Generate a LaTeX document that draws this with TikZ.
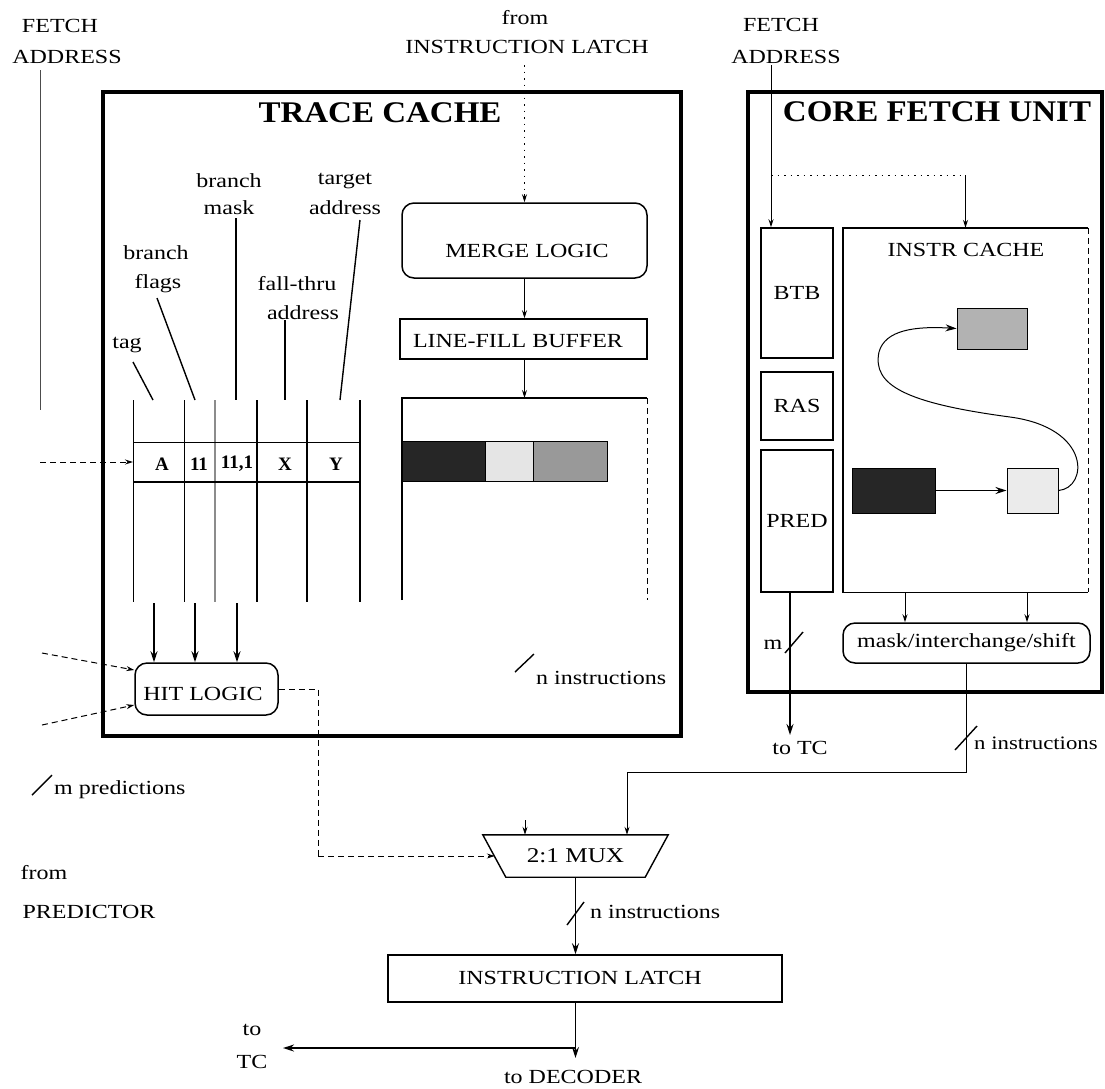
\documentclass[tikz,border=0pt]{standalone}
\usepackage{fontspec}
\setmainfont{Liberation Serif}
\usepackage{graphicx}
\usetikzlibrary{arrows.meta}
\newcommand{\ws}[2][1.2]{\scalebox{#1}[1]{#2}}
\begin{document}
\begin{tikzpicture}[x=1pt,y=-1pt,
  lbl/.style={inner sep=0pt, font=\fontsize{20}{22}\selectfont},
  big/.style={inner sep=0pt, font=\bfseries\fontsize{30}{32}\selectfont},
  cell/.style={inner sep=0pt, font=\bfseries\fontsize{19}{21}\selectfont},
  frame/.style={draw, line width=3.8pt, inner sep=0pt},
  boxx/.style={draw, line width=1.5pt, inner sep=0pt, font=\fontsize{20}{22}\selectfont},
  rbox/.style={boxx, rounded corners=12pt},
  blk/.style={draw, line width=1pt, inner sep=0pt},
  ln/.style={line width=1.4pt},
  thinln/.style={line width=1pt},
  arr/.style={ln, -{Stealth[length=11pt,width=7pt]}},
  sarr/.style={thinln, -{Stealth[length=8pt,width=5pt]}},
  dotl/.style={line width=1pt, dash pattern=on 1.5pt off 5pt},
  dsh/.style={line width=1pt, dash pattern=on 6pt off 4pt}
]
\useasboundingbox (0,0) rectangle (1105,1088);

% ---------- outer frames ----------
\node[frame, minimum width=578pt, minimum height=644pt] (tc) at (392,414) {};
\node[frame, minimum width=354pt, minimum height=600pt] (cfu) at (925,392) {};

% ---------- top labels ----------
\node[lbl] (fa1a) at (60,26) {\ws{FETCH}};
\node[lbl] (fa1b) at (67,57) {\ws{ADDRESS}};
\node[lbl] (fil1) at (525,18) {\ws{from}};
\node[lbl] (fil2) at (527,47) {\ws{INSTRUCTION LATCH}};
\node[lbl] (fa2a) at (781,25) {\ws{FETCH}};
\node[lbl] (fa2b) at (786,57) {\ws{ADDRESS}};
\node[big] (tct) at (380,113) {\ws[1.1]{TRACE CACHE}};
\node[big] (cft) at (937,112) {\ws[1.1]{CORE FETCH UNIT}};

% ---------- trace cache contents ----------
\node[rbox, minimum width=245pt, minimum height=75pt] (merge) at (524.5,240.5) {};
\node[lbl] (mergetxt) at (527,251) {\ws{MERGE LOGIC}};
\node[boxx, minimum width=247pt, minimum height=40pt] (lfb) at (523.5,339) {};
\node[lbl] (lfbtxt) at (518,341) {\ws{LINE-FILL BUFFER}};

\coordinate (fatl) at (402,398);
\coordinate (fatr) at (647,398);
\coordinate (fabl) at (402,600);
\coordinate (fabr) at (647,600);
\draw[ln] (fabl) -- (fatl) -- (fatr);
\draw[dsh] (fatr) -- (fabr);

\node[blk, fill=black!85, minimum width=83pt, minimum height=40pt] (b1) at (443.5,461) {};
\node[blk, fill=black!10, minimum width=48pt, minimum height=40pt] (b2) at (509,461) {};
\node[blk, fill=black!40, minimum width=74pt, minimum height=40pt] (b3) at (570,461) {};

% field labels
\node[lbl] (lbm1) at (229,181) {\ws{branch}};
\node[lbl] (lbm2) at (229,208) {\ws{mask}};
\node[lbl] (lta1) at (345,181) {\ws{target}};
\node[lbl] (lta2) at (345,208) {\ws{address}};
\node[lbl] (lbf1) at (156,253) {\ws{branch}};
\node[lbl] (lbf2) at (158,284) {\ws{flags}};
\node[lbl] (lft1) at (297,284) {\ws{fall-thru}};
\node[lbl] (lft2) at (303,313) {\ws{address}};
\node[lbl] (ltag) at (127,345) {\ws{tag}};

% table grid
\coordinate (g0) at (133,400); \coordinate (g0b) at (133,602);
\coordinate (g1) at (184,400); \coordinate (g1b) at (184,602);
\coordinate (g2) at (215,400); \coordinate (g2b) at (215,602);
\coordinate (g3) at (257,400); \coordinate (g3b) at (257,602);
\coordinate (g4) at (307,400); \coordinate (g4b) at (307,602);
\coordinate (g5) at (360,400); \coordinate (g5b) at (360,602);
\draw[thinln] (g0) -- (g0b);
\draw[thinln] (g1) -- (g1b);
\draw[line width=2.6pt, black!45] (g2) -- (g2b);
\draw[ln] (g3) -- (g3b);
\draw[ln] (g4) -- (g4b);
\draw[ln] (g5) -- (g5b);
\coordinate (h1l) at (133,442); \coordinate (h1r) at (360,442);
\coordinate (h2l) at (133,482); \coordinate (h2r) at (360,482);
\draw[thinln] (h1l) -- (h1r);
\draw[ln] (h2l) -- (h2r);
\node[cell] (cA) at (162,464) {A};
\node[cell] (cF) at (199,464) {11};
\node[cell] (cM) at (237,464) {11,1};
\node[cell] (cX) at (285,464) {X};
\node[cell] (cY) at (336,464) {Y};

% label leader lines
\coordinate (tagt) at (133,362); \coordinate (tagb) at (153,400);
\coordinate (flt) at (157,298); \coordinate (flb) at (195,400);
\coordinate (mkt) at (236,218); \coordinate (mkb) at (236,400);
\coordinate (ftt) at (285,320); \coordinate (ftb) at (285,400);
\coordinate (tat) at (360,220); \coordinate (tab) at (340,400);
\draw[ln] (tagt) -- (tagb);
\draw[ln] (flt) -- (flb);
\draw[ln] (mkt) -- (mkb);
\draw[ln] (ftt) -- (ftb);
\draw[ln] (tat) -- (tab);

% hit logic
\node[rbox, minimum width=143pt, minimum height=52pt] (hit) at (206.5,689) {};
\node[lbl] (hittxt) at (203,694) {\ws{HIT LOGIC}};
\coordinate (ha1) at (154,603);
\coordinate (ha2) at (195,603);
\coordinate (ha3) at (237,603);
\draw[arr] (ha1) -- (ha1 |- hit.north);
\draw[arr] (ha2) -- (ha2 |- hit.north);
\draw[arr] (ha3) -- (ha3 |- hit.north);

% n instructions inside TC
\coordinate (ns1a) at (515,672); \coordinate (ns1b) at (534,654);
\draw[ln] (ns1a) -- (ns1b);
\node[lbl, anchor=west] (ni1) at (536,678) {\ws{n instructions}};

% fetch address (left) and predictor inputs
\coordinate (fl1) at (40,70); \coordinate (fl2) at (40,410);
\draw[line width=0.8pt, black!70] (fl1) -- (fl2);
\coordinate (fl3) at (40,462);
\draw[dsh, -{Stealth[length=8pt,width=5pt]}] (fl3) -- (fl3 -| g0);
\coordinate (pr1) at (42,653); \coordinate (pr2) at (42,725);
\draw[dsh, -{Stealth[length=8pt,width=5pt]}] (pr1) -- ([yshift=19pt]hit.west);
\draw[dsh, -{Stealth[length=8pt,width=5pt]}] (pr2) -- ([yshift=-16pt]hit.west);

% from instruction latch
\coordinate (il) at (524.5,65);
\draw[dotl] (il) -- ([yshift=8pt]merge.north);
\draw[sarr] ([yshift=8pt]merge.north) -- (merge.north);
\draw[sarr] (merge.south) -- (merge.south |- lfb.north);
\draw[sarr] (merge.south |- lfb.south) -- (merge.south |- fatl);

% ---------- core fetch unit ----------
\node[boxx, minimum width=72pt, minimum height=130pt] (btb) at (797,293) {\ws{BTB}};
\node[boxx, minimum width=72pt, minimum height=68pt] (ras) at (797,406) {\ws{RAS}};
\node[boxx, minimum width=72pt, minimum height=142pt] (pred) at (797,521) {\ws{PRED}};
\node[minimum width=245pt, minimum height=364pt, inner sep=0pt] (icache) at (965.5,410) {};
\draw[ln] (icache.north east) -- (icache.north west) -- (icache.south west) -- (icache.south east);
\draw[dsh] (icache.north east) -- (icache.south east);
\node[lbl] (ictxt) at (966,250) {\ws{INSTR CACHE}};

\node[blk, fill=black!30, minimum width=70pt, minimum height=41pt] (gblk) at (992,328.5) {};
\node[blk, fill=black!85, minimum width=83pt, minimum height=45pt] (dblk) at (893.5,490.5) {};
\node[blk, fill=black!8, minimum width=51pt, minimum height=45pt] (lblk) at (1032.5,490.5) {};
\draw[arr] (dblk.east) -- (lblk.west);
\draw[thinln, -{Stealth[length=11pt,width=7pt]}] (lblk.east) .. controls (1088,488) and (1092,428) .. (1010,417)
   .. controls (905,403) and (872,385) .. (879,352) .. controls (885,330) and (915,326) .. (gblk.west);

\coordinate (fa2) at (771,65);
\draw[thinln, -{Stealth[length=8pt,width=5pt]}] (fa2) -- (fa2 |- btb.north);
\coordinate (icd) at (771,175);
\coordinate (icx) at (965.5,175);
\draw[dotl] (icd) -- (icx);
\draw[sarr] (icx) -- (icache.north);

\node[rbox, minimum width=247pt, minimum height=40pt] (mask) at (966.5,643) {\ws{mask/interchange/shift}};
\coordinate (m1) at (905,0);
\coordinate (m2) at (1027,0);
\draw[sarr] (icache.south -| m1) -- (mask.north -| m1);
\draw[sarr] (icache.south -| m2) -- (mask.north -| m2);

\coordinate (p1) at (790,0);
\coordinate (totc) at (790,735);
\draw[arr] (pred.south -| p1) -- (totc);
\node[lbl] (totctxt) at (800,748) {\ws{to TC}};
\coordinate (ms1a) at (785,653); \coordinate (ms1b) at (803,632);
\draw[ln] (ms1a) -- (ms1b);
\node[lbl] (mlbl) at (773,645) {\ws{m}};

% ---------- mux ----------
\node[minimum width=185pt, minimum height=42pt, inner sep=0pt, font=\fontsize{21}{23}\selectfont] (mux) at (575.5,856) {\ws{2:1 MUX}};
\draw[ln] (mux.north west) -- (mux.north east) -- ([xshift=-23pt]mux.south east) -- ([xshift=23pt]mux.south west) -- cycle;

\coordinate (bend) at (627,772);
\draw[sarr] (mask.south) |- (bend) -- (bend |- mux.north);
\coordinate (ms2a) at (955,750); \coordinate (ms2b) at (977,726);
\draw[ln] (ms2a) -- (ms2b);
\node[lbl, anchor=west, font=\fontsize{19}{21}\selectfont] (ni2) at (974,743) {\ws{n instructions}};

\coordinate (tcout) at (525,820);
\draw[sarr] (tcout) -- (tcout |- mux.north);

\coordinate (hb) at (318,856);
\draw[dsh] (hit.east) -| (hb);
\draw[dsh, -{Stealth[length=8pt,width=5pt]}] (hb) -- ([xshift=12pt]mux.west);

% ---------- instruction latch ----------
\node[boxx, minimum width=394pt, minimum height=47pt] (latch) at (585,978.5) {};
\node[lbl] (latchtxt) at (580,978) {\ws{INSTRUCTION LATCH}};
\draw[arr] (mux.south) -- (mux.south |- latch.north);
\coordinate (ms3a) at (567,925); \coordinate (ms3b) at (584,902);
\draw[ln] (ms3a) -- (ms3b);
\node[lbl, anchor=west] (ni3) at (590,912) {\ws{n instructions}};

\coordinate (dec) at (575.5,1058);
\draw[arr] (mux.south |- latch.south) -- (dec);
\coordinate (tc2) at (283,1048);
\draw[arr] (dec |- tc2) -- (tc2);
\node[lbl] (dectxt) at (573,1077) {\ws{to DECODER}};
\node[lbl] (to1) at (252,1030) {\ws{to}};
\node[lbl] (to2) at (252,1062) {\ws{TC}};

% ---------- left bottom labels ----------
\coordinate (ms4a) at (32,795); \coordinate (ms4b) at (52,775);
\draw[ln] (ms4a) -- (ms4b);
\node[lbl, anchor=west] (mpred) at (54,790) {\ws{m predictions}};
\node[lbl] (from2) at (44,873) {\ws{from}};
\node[lbl] (predictor) at (89,912) {\ws{PREDICTOR}};
\end{tikzpicture}
\end{document}
